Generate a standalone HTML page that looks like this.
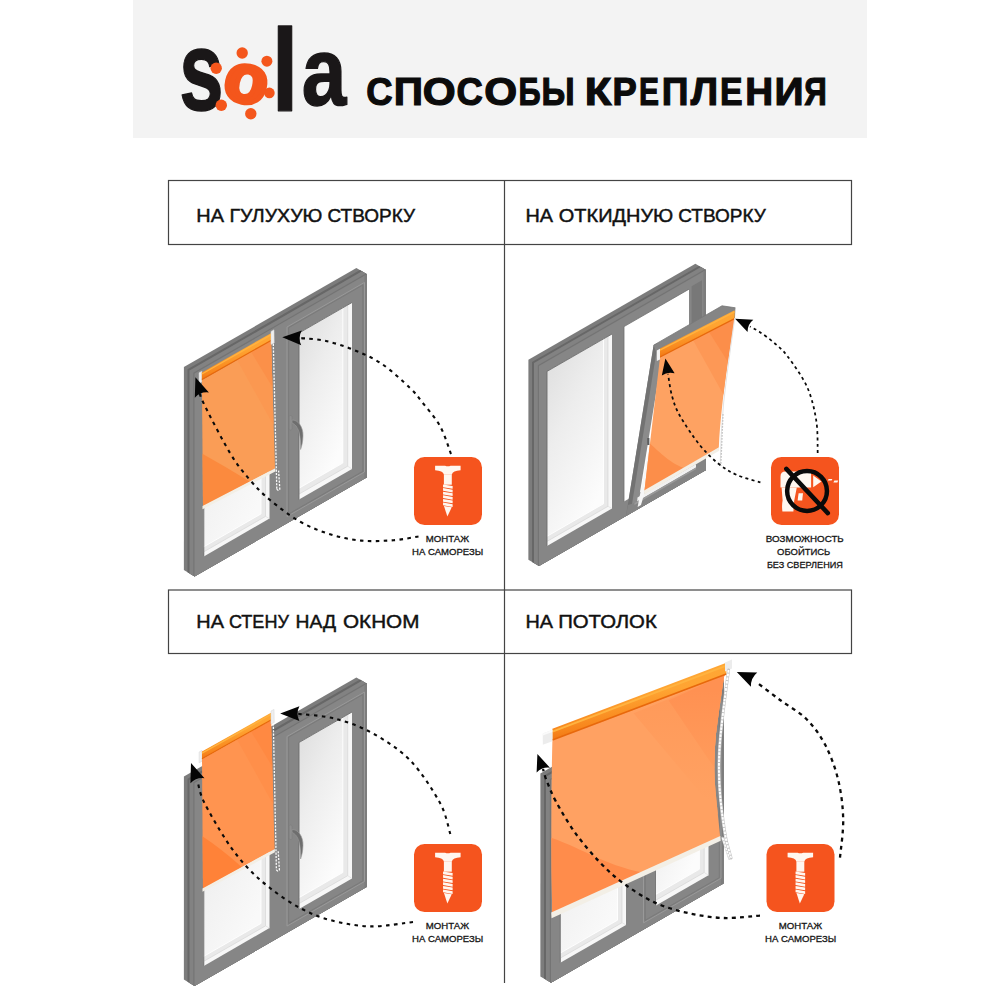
<!DOCTYPE html>
<html lang="ru"><head><meta charset="utf-8"><title>sola — способы крепления</title>
<style>
html,body{margin:0;padding:0;background:#fff;}
body{width:1000px;height:1000px;overflow:hidden;font-family:"Liberation Sans",sans-serif;}
svg{display:block}
text{font-family:"Liberation Sans",sans-serif;}
.lb{fill:#111;stroke:#111;stroke-width:.45px;}
.sm{fill:#161616;stroke:#161616;stroke-width:.28px;}
.ttl{fill:#0b0b0b;font-weight:bold;stroke:#0b0b0b;stroke-width:1.2px;stroke-linejoin:miter;}
.logo{font-family:"Liberation Sans",sans-serif;font-weight:bold;}
</style></head><body>
<svg width="1000" height="1000" viewBox="0 0 1000 1000">
<defs>
<linearGradient id="gA" x1="0" y1="0" x2="0.55" y2="1"><stop offset="0" stop-color="#e4e4e4"/><stop offset=".55" stop-color="#f1f1f1"/><stop offset="1" stop-color="#f9f9f9"/></linearGradient>
<linearGradient id="gB" x1="0" y1="0" x2="0.55" y2="1"><stop offset="0" stop-color="#dcdcdc"/><stop offset=".45" stop-color="#ededed"/><stop offset="1" stop-color="#fcfcfc"/></linearGradient>
<linearGradient id="g4m" gradientUnits="userSpaceOnUse" x1="0" y1="700" x2="0" y2="800"><stop offset="0" stop-color="#ff9a5a"/><stop offset="1" stop-color="#ffa162"/></linearGradient>
<linearGradient id="g4d" gradientUnits="userSpaceOnUse" x1="0" y1="690" x2="0" y2="790"><stop offset="0" stop-color="#ff9152"/><stop offset="1" stop-color="#ff9e5e"/></linearGradient>
<linearGradient id="gR" x1="0" y1="0" x2="0.3" y2="1"><stop offset="0" stop-color="#f68c1f"/><stop offset=".18" stop-color="#ffa836"/><stop offset=".5" stop-color="#ffa432"/><stop offset=".82" stop-color="#f7851c"/><stop offset="1" stop-color="#ea6a0e"/></linearGradient>
</defs>
<rect width="1000" height="1000" fill="#ffffff"/>
<rect x="133" y="0" width="734" height="138" fill="#f3f3f3"/>

<g fill="none" stroke="#444" stroke-width="1.2">
<rect x="168.5" y="180.5" width="683" height="64"/>
<rect x="168.5" y="590" width="683" height="63.5"/>
<line x1="504.5" y1="180.5" x2="504.5" y2="983"/>
</g>
<text class="logo" stroke-linejoin="round"><tspan x="179.20" y="109.6" font-size="113" textLength="44.26" lengthAdjust="spacingAndGlyphs" fill="#1a1718" stroke="#1a1718" stroke-width="1.4">s</tspan><tspan x="221.14" y="97.5" font-size="68" textLength="43.11" lengthAdjust="spacingAndGlyphs" rotate="12" fill="#f4561c" stroke="#f4561c" stroke-width="4.6">o</tspan><tspan x="271.38" y="110.6" font-size="117" textLength="27.13" lengthAdjust="spacingAndGlyphs" fill="#1a1718" stroke="#1a1718" stroke-width="1.4">l</tspan><tspan x="301.65" y="105.2" font-size="96" textLength="44.64" lengthAdjust="spacingAndGlyphs" fill="#1a1718" stroke="#1a1718" stroke-width="1.4">a</tspan></text>
<circle cx="242.2" cy="53" r="5.7" fill="#f4561c"/>
<circle cx="266.9" cy="61.2" r="5.5" fill="#f4561c"/>
<circle cx="216.2" cy="68.2" r="5.7" fill="#f4561c"/>
<circle cx="269.4" cy="92.9" r="5.3" fill="#f4561c"/>
<circle cx="221.3" cy="105.3" r="5.7" fill="#f4561c"/>
<circle cx="250.8" cy="113.8" r="5.7" fill="#f4561c"/>
<text y="105.4" font-size="38.9" class="ttl" ><tspan x="366.21" textLength="26.29" lengthAdjust="spacingAndGlyphs">С</tspan><tspan x="393.78" textLength="29.24" lengthAdjust="spacingAndGlyphs">П</tspan><tspan x="422.76" textLength="32.91" lengthAdjust="spacingAndGlyphs">О</tspan><tspan x="456.61" textLength="26.29" lengthAdjust="spacingAndGlyphs">С</tspan><tspan x="484.36" textLength="32.91" lengthAdjust="spacingAndGlyphs">О</tspan><tspan x="518.44" textLength="22.16" lengthAdjust="spacingAndGlyphs">Б</tspan><tspan x="541.44" textLength="33.13" lengthAdjust="spacingAndGlyphs">Ы</tspan><tspan> </tspan><tspan x="584.78" textLength="26.66" lengthAdjust="spacingAndGlyphs">К</tspan><tspan x="612.46" textLength="24.28" lengthAdjust="spacingAndGlyphs">Р</tspan><tspan x="638.90" textLength="19.97" lengthAdjust="spacingAndGlyphs">Е</tspan><tspan x="661.76" textLength="26.72" lengthAdjust="spacingAndGlyphs">П</tspan><tspan x="690.75" textLength="27.36" lengthAdjust="spacingAndGlyphs">Л</tspan><tspan x="719.93" textLength="22.59" lengthAdjust="spacingAndGlyphs">Е</tspan><tspan x="745.32" textLength="27.88" lengthAdjust="spacingAndGlyphs">Н</tspan><tspan x="774.61" textLength="29.10" lengthAdjust="spacingAndGlyphs">И</tspan><tspan x="804.36" textLength="22.53" lengthAdjust="spacingAndGlyphs">Я</tspan></text>
<text y="221.7" font-size="19" class="lb" ><tspan x="196.37" textLength="27.67" lengthAdjust="spacingAndGlyphs">НА</tspan><tspan> </tspan><tspan x="229.40" textLength="93.03" lengthAdjust="spacingAndGlyphs">ГУЛУХУЮ</tspan><tspan> </tspan><tspan x="327.45" textLength="87.56" lengthAdjust="spacingAndGlyphs">СТВОРКУ</tspan></text>
<text y="221.7" font-size="19" class="lb" ><tspan x="525.47" textLength="27.57" lengthAdjust="spacingAndGlyphs">НА</tspan><tspan> </tspan><tspan x="558.86" textLength="114.40" lengthAdjust="spacingAndGlyphs">ОТКИДНУЮ</tspan><tspan> </tspan><tspan x="678.25" textLength="87.56" lengthAdjust="spacingAndGlyphs">СТВОРКУ</tspan></text>
<text y="627.7" font-size="19" class="lb" ><tspan x="196.37" textLength="27.67" lengthAdjust="spacingAndGlyphs">НА</tspan><tspan> </tspan><tspan x="228.89" textLength="60.02" lengthAdjust="spacingAndGlyphs">СТЕНУ</tspan><tspan> </tspan><tspan x="295.59" textLength="40.58" lengthAdjust="spacingAndGlyphs">НАД</tspan><tspan> </tspan><tspan x="343.02" textLength="76.38" lengthAdjust="spacingAndGlyphs">ОКНОМ</tspan></text>
<text y="627.7" font-size="19" class="lb" ><tspan x="525.47" textLength="27.57" lengthAdjust="spacingAndGlyphs">НА</tspan><tspan> </tspan><tspan x="558.17" textLength="98.65" lengthAdjust="spacingAndGlyphs">ПОТОЛОК</tspan></text>
<polygon points="183.9,367.1 356.4,267.9 367.0,274.3 367.0,477.3 194.5,576.5 183.9,570.1" fill="#7c7c7c" />
<polygon points="187.5,369.3 360.0,270.1 367.0,274.3 367.0,477.3 194.5,576.5 187.5,572.3" fill="#676767" />
<polygon points="189.5,370.5 362.0,271.3 367.0,274.3 367.0,477.3 194.5,576.5 189.5,573.5" fill="#828282" />
<polygon points="193.3,372.8 365.8,273.6 367.0,274.3 367.0,477.3 194.5,576.5 193.3,575.8" fill="#747474" />
<polygon points="194.5,373.5 367.0,274.3 367.0,477.3 194.5,576.5" fill="#868686" />
<polygon points="364.5,275.8 367.0,274.3 367.0,477.3 364.5,478.8" fill="#7d7d7d" />
<polygon points="203.8,383.2 269.5,345.4 269.5,518.6 203.8,556.4" fill="#f7f7f7" />
<polygon points="203.8,383.2 265.5,347.7 265.5,516.4 203.8,551.8" fill="#e9e9e9" />
<polyline points="203.8,551.8 265.5,516.4 265.5,347.7" fill="none" stroke="#d6d6d6" stroke-width="0.7" />
<polyline points="265.5,516.4 269.5,518.6" fill="none" stroke="#dcdcdc" stroke-width="0.6" />
<polygon points="203.8,383.2 261.0,350.3 261.0,513.9 203.8,546.8" fill="url(#gA)" />
<polyline points="203.8,546.8 261.0,513.9 261.0,350.3" fill="none" stroke="#ffffff" stroke-width="0.9" />
<polyline points="203.8,556.4 203.8,383.2 269.5,345.4" fill="none" stroke="#6c6c6c" stroke-width="0.9" />
<polygon points="287.0,327.0 364.5,282.4 364.5,472.0 287.0,516.6" fill="#838383" />
<polyline points="287.0,327.0 364.5,282.4 364.5,472.0 287.0,516.6 287.0,327.0" fill="none" stroke="#999999" stroke-width="1.0" />
<polygon points="288.7,327.7 362.8,285.1 362.8,471.3 288.7,513.9" fill="#868686" />
<polyline points="288.7,327.7 362.8,285.1 362.8,471.3 288.7,513.9 288.7,327.7" fill="none" stroke="#777777" stroke-width="0.8" />
<polygon points="299.0,333.0 352.0,302.5 352.0,468.9 299.0,499.4" fill="#f7f7f7" />
<polygon points="299.0,333.0 347.7,305.0 347.7,466.2 299.0,494.1" fill="#e9e9e9" />
<polyline points="299.0,494.1 347.7,466.2 347.7,305.0" fill="none" stroke="#d6d6d6" stroke-width="0.7" />
<polyline points="347.7,466.2 352.0,468.9" fill="none" stroke="#dcdcdc" stroke-width="0.6" />
<polygon points="299.0,333.0 342.8,307.8 342.8,463.0 299.0,488.2" fill="url(#gB)" />
<polyline points="299.0,488.2 342.8,463.0 342.8,307.8" fill="none" stroke="#ffffff" stroke-width="0.9" />
<polyline points="299.0,499.4 299.0,333.0 352.0,302.5" fill="none" stroke="#6c6c6c" stroke-width="0.9" />
<rect x="289.2" y="415.5" width="2.8" height="14.5" rx="1.2" fill="#8e8e8e" stroke="#7a7a7a" stroke-width="0.5"/>
<path d="M291.9,420.1 c5.6,-0.8 11.6,6.6 11.1,15.9 c-0.2,6 -1.2,10 -2.4,13.5 c-0.3,-5.5 0.2,-11.5 -1.6,-17.5 c-1.5,-5 -4,-8 -7,-9 Z" fill="#6e6e6e" stroke="#9c9c9c" stroke-width="0.6"/>
<polygon points="199.0,372.8 201.9,371.2 201.9,382.0 199.0,383.6" fill="#efefef" stroke="#d4d4d4" stroke-width="0.5"/>
<clipPath id="cf1"><polygon points="201.9,380.0 271.0,340.8 275.0,468.6 203.0,506.4"/></clipPath>
<polygon points="201.9,380.0 271.0,340.8 275.0,468.6 203.0,506.4" fill="#fa9d56" />
<g clip-path="url(#cf1)">
<polygon points="237.0,359.8 277.0,336.8 277.0,428.8 271.0,420.8" fill="#fb9851" />
<polygon points="251.0,351.8 277.0,336.8 277.0,390.8 271.0,384.8" fill="#fb9049" />
<path d="M200.0,452.4 Q224.2,465.8 250.0,481.7 L250.0,493.7 L200.0,516.4 Z" fill="#fb8a3e"/>
</g>
<polygon points="202.5,506.0 275.3,468.2 275.3,471.5 202.5,509.3" fill="#f3efe6" />
<polygon points="201.9,372.4 271.0,333.2 271.0,340.8 201.9,380.0" fill="url(#gR)" />
<polyline points="201.9,379.6 271.0,340.4" fill="none" stroke="#e8680c" stroke-width="1.2" />
<polyline points="201.9,374.0 271.0,334.8" fill="none" stroke="#ffb340" stroke-width="1.4" />
<polygon points="271.0,331.4 274.0,329.8 274.2,343.0 271.0,344.4" fill="#efefef" stroke="#d4d4d4" stroke-width="0.5"/>
<path d="M273.3,343.8 L276.8,489.1" stroke="#fafafa" stroke-width="1.3" stroke-dasharray="2.1 1.3" fill="none"/>
<path d="M276.8,489.1 q1.6,2.4 3.0,0 L278.6,470.6" stroke="#fafafa" stroke-width="1.3" stroke-dasharray="2.1 1.3" fill="none"/>
<path d="M418.5,536.5 C414.4,537.1 403.2,539.5 393.6,540.2 C384.1,540.9 371.8,541.6 361.2,540.6 C350.6,539.6 340.2,537.4 330.0,534.2 C319.8,531.0 310.0,527.3 300.0,521.6 C290.0,515.9 278.3,506.9 270.0,500.0 C261.7,493.1 256.7,487.8 250.0,480.0 C243.3,472.2 237.8,466.0 230.0,453.0 C222.2,440.0 208.0,412.4 203.0,402.0 C198.0,391.6 200.7,392.4 200.2,390.5" fill="none" stroke="#0a0a0a" stroke-width="2.1" stroke-dasharray="3.5 4.4"/>
<path d="M0,0 L-18.9,-7.5 Q-15.1,0 -18.9,7.5 Z" fill="#050505" transform="translate(195.4,377.3) rotate(-110)"/>
<path d="M451.0,454.0 C449.2,449.3 444.8,434.7 440.0,426.0 C435.2,417.3 427.0,408.3 422.0,402.0 C417.0,395.7 416.7,394.3 410.0,388.0 C403.3,381.7 391.3,370.3 382.0,364.0 C372.7,357.7 363.3,353.8 354.0,350.0 C344.7,346.2 334.9,343.0 326.0,341.0 C317.1,339.0 304.8,338.5 300.5,338.0" fill="none" stroke="#0a0a0a" stroke-width="2.1" stroke-dasharray="3.5 4.4"/>
<path d="M0,0 L-19.2,-7.4 Q-15.4,0 -19.2,7.4 Z" fill="#050505" transform="translate(282.3,337.3) rotate(-178)"/>
<rect x="414" y="457" width="68" height="68" rx="10.5" fill="#f5541e"/>
<g fill="#fff7f0">
<path d="M435.10,465.80 h10.0 q2.75,1.1 5.5,0 h10.0 v4.4 q-7.8,0.4 -8.8,4.4 h-7.9 q-1.0,-4.0 -8.8,-4.4 Z"/>
<rect x="443.90" y="474.30" width="7.9" height="10.4"/>
<polygon points="443.05,484.40 452.65,486.10 452.65,488.85 443.05,487.15"/>
<polygon points="443.05,488.02 452.65,489.72 452.65,492.47 443.05,490.77"/>
<polygon points="443.05,491.64 452.65,493.34 452.65,496.09 443.05,494.39"/>
<polygon points="443.05,495.26 452.65,496.96 452.65,499.71 443.05,498.01"/>
<polygon points="443.05,498.88 452.65,500.58 452.65,503.33 443.05,501.63"/>
<polygon points="443.05,502.50 452.65,504.20 452.65,506.95 443.05,505.25"/>
<polygon points="443.95,505.92 451.75,507.32 447.35,516.40"/>
</g>
<text x="447.4" y="542.2" font-size="8.9" text-anchor="middle" textLength="43.3" lengthAdjust="spacingAndGlyphs" class="sm">МОНТАЖ</text>
<text x="447.6" y="554.8" font-size="8.9" text-anchor="middle" textLength="71.2" lengthAdjust="spacingAndGlyphs" class="sm">НА САМОРЕЗЫ</text>
<polygon points="183.9,776.6 356.4,677.4 367.0,683.8 367.0,886.8 194.5,986.0 183.9,979.6" fill="#7c7c7c" />
<polygon points="187.5,778.8 360.0,679.6 367.0,683.8 367.0,886.8 194.5,986.0 187.5,981.8" fill="#676767" />
<polygon points="189.5,780.0 362.0,680.8 367.0,683.8 367.0,886.8 194.5,986.0 189.5,983.0" fill="#828282" />
<polygon points="193.3,782.3 365.8,683.1 367.0,683.8 367.0,886.8 194.5,986.0 193.3,985.3" fill="#747474" />
<polygon points="194.5,783.0 367.0,683.8 367.0,886.8 194.5,986.0" fill="#868686" />
<polygon points="364.5,685.2 367.0,683.8 367.0,886.8 364.5,888.2" fill="#7d7d7d" />
<polygon points="203.8,792.7 269.5,754.9 269.5,928.1 203.8,965.9" fill="#f7f7f7" />
<polygon points="203.8,792.7 265.5,757.2 265.5,925.9 203.8,961.3" fill="#e9e9e9" />
<polyline points="203.8,961.3 265.5,925.9 265.5,757.2" fill="none" stroke="#d6d6d6" stroke-width="0.7" />
<polyline points="265.5,925.9 269.5,928.1" fill="none" stroke="#dcdcdc" stroke-width="0.6" />
<polygon points="203.8,792.7 261.0,759.8 261.0,923.4 203.8,956.3" fill="url(#gA)" />
<polyline points="203.8,956.3 261.0,923.4 261.0,759.8" fill="none" stroke="#ffffff" stroke-width="0.9" />
<polyline points="203.8,965.9 203.8,792.7 269.5,754.9" fill="none" stroke="#6c6c6c" stroke-width="0.9" />
<polygon points="287.0,736.5 364.5,692.0 364.5,881.5 287.0,926.1" fill="#838383" />
<polyline points="287.0,736.5 364.5,692.0 364.5,881.5 287.0,926.1 287.0,736.5" fill="none" stroke="#999999" stroke-width="1.0" />
<polygon points="288.7,737.2 362.8,694.6 362.8,880.8 288.7,923.4" fill="#868686" />
<polyline points="288.7,737.2 362.8,694.6 362.8,880.8 288.7,923.4 288.7,737.2" fill="none" stroke="#777777" stroke-width="0.8" />
<polygon points="299.0,742.5 352.0,712.0 352.0,878.4 299.0,908.9" fill="#f7f7f7" />
<polygon points="299.0,742.5 347.7,714.5 347.7,875.7 299.0,903.6" fill="#e9e9e9" />
<polyline points="299.0,903.6 347.7,875.7 347.7,714.5" fill="none" stroke="#d6d6d6" stroke-width="0.7" />
<polyline points="347.7,875.7 352.0,878.4" fill="none" stroke="#dcdcdc" stroke-width="0.6" />
<polygon points="299.0,742.5 342.8,717.3 342.8,872.5 299.0,897.7" fill="url(#gB)" />
<polyline points="299.0,897.7 342.8,872.5 342.8,717.3" fill="none" stroke="#ffffff" stroke-width="0.9" />
<polyline points="299.0,908.9 299.0,742.5 352.0,712.0" fill="none" stroke="#6c6c6c" stroke-width="0.9" />
<rect x="289.2" y="825.0" width="2.8" height="14.5" rx="1.2" fill="#8e8e8e" stroke="#7a7a7a" stroke-width="0.5"/>
<path d="M291.9,829.6 c5.6,-0.8 11.6,6.6 11.1,15.9 c-0.2,6 -1.2,10 -2.4,13.5 c-0.3,-5.5 0.2,-11.5 -1.6,-17.5 c-1.5,-5 -4,-8 -7,-9 Z" fill="#6e6e6e" stroke="#9c9c9c" stroke-width="0.6"/>
<polygon points="199.1,752.0 202.0,750.4 202.0,761.2 199.1,762.8" fill="#efefef" stroke="#d4d4d4" stroke-width="0.5"/>
<clipPath id="cf3"><polygon points="202.0,759.2 271.0,720.4 274.6,849.3 203.0,888.8"/></clipPath>
<polygon points="202.0,759.2 271.0,720.4 274.6,849.3 203.0,888.8" fill="#ff9450" />
<g clip-path="url(#cf3)">
<polygon points="237.0,739.4 277.0,716.4 277.0,808.4 271.0,800.4" fill="#ff8f4a" />
<polygon points="251.0,731.4 277.0,716.4 277.0,770.4 271.0,764.4" fill="#ff8942" />
<path d="M200.0,834.8 Q220.6,848.2 242.0,867.3 L242.0,879.3 L200.0,898.8 Z" fill="#ff8238"/>
</g>
<polygon points="202.5,888.4 274.9,848.9 274.9,852.2 202.5,891.7" fill="#f3efe6" />
<polygon points="202.0,751.6 271.0,712.8 271.0,720.4 202.0,759.2" fill="url(#gR)" />
<polyline points="202.0,758.8 271.0,720.0" fill="none" stroke="#e8680c" stroke-width="1.2" />
<polyline points="202.0,753.2 271.0,714.4" fill="none" stroke="#ffb340" stroke-width="1.4" />
<polygon points="271.0,711.0 274.0,709.4 274.2,722.6 271.0,724.0" fill="#efefef" stroke="#d4d4d4" stroke-width="0.5"/>
<path d="M273.3,723.4 L276.4,869.8" stroke="#fafafa" stroke-width="1.3" stroke-dasharray="2.1 1.3" fill="none"/>
<path d="M276.4,869.8 q1.6,2.4 3.0,0 L278.2,851.3" stroke="#fafafa" stroke-width="1.3" stroke-dasharray="2.1 1.3" fill="none"/>
<path d="M413.0,922.0 C405.8,922.7 383.8,926.7 370.0,926.4 C356.2,926.1 341.7,923.1 330.0,920.0 C318.3,916.9 310.0,913.3 300.0,908.0 C290.0,902.7 279.0,895.0 270.0,888.0 C261.0,881.0 253.3,874.0 246.0,866.0 C238.7,858.0 233.0,850.7 226.0,840.0 C219.0,829.3 208.8,811.8 204.0,802.0 C199.2,792.2 198.6,784.5 197.5,781.0" fill="none" stroke="#0a0a0a" stroke-width="2.1" stroke-dasharray="3.5 4.4"/>
<path d="M0,0 L-18.9,-7.5 Q-15.1,0 -18.9,7.5 Z" fill="#050505" transform="translate(191.0,763.0) rotate(-110)"/>
<path d="M450.3,834.0 C448.6,828.8 446.5,814.8 439.8,802.6 C433.1,790.4 421.6,772.2 410.4,760.6 C399.2,749.0 385.2,740.3 372.6,733.3 C360.0,726.3 347.2,721.9 334.8,718.6 C322.4,715.4 304.1,714.6 298.0,713.8" fill="none" stroke="#0a0a0a" stroke-width="2.1" stroke-dasharray="3.5 4.4"/>
<path d="M0,0 L-19.2,-7.4 Q-15.4,0 -19.2,7.4 Z" fill="#050505" transform="translate(280.2,713.6) rotate(180)"/>
<rect x="414" y="844" width="68" height="68" rx="10.5" fill="#f5541e"/>
<g fill="#fff7f0">
<path d="M435.10,852.80 h10.0 q2.75,1.1 5.5,0 h10.0 v4.4 q-7.8,0.4 -8.8,4.4 h-7.9 q-1.0,-4.0 -8.8,-4.4 Z"/>
<rect x="443.90" y="861.30" width="7.9" height="10.4"/>
<polygon points="443.05,871.40 452.65,873.10 452.65,875.85 443.05,874.15"/>
<polygon points="443.05,875.02 452.65,876.72 452.65,879.47 443.05,877.77"/>
<polygon points="443.05,878.64 452.65,880.34 452.65,883.09 443.05,881.39"/>
<polygon points="443.05,882.26 452.65,883.96 452.65,886.71 443.05,885.01"/>
<polygon points="443.05,885.88 452.65,887.58 452.65,890.33 443.05,888.63"/>
<polygon points="443.05,889.50 452.65,891.20 452.65,893.95 443.05,892.25"/>
<polygon points="443.95,892.92 451.75,894.32 447.35,903.40"/>
</g>
<text x="447.4" y="929.4" font-size="8.9" text-anchor="middle" textLength="43.3" lengthAdjust="spacingAndGlyphs" class="sm">МОНТАЖ</text>
<text x="447.6" y="941.9" font-size="8.9" text-anchor="middle" textLength="71.2" lengthAdjust="spacingAndGlyphs" class="sm">НА САМОРЕЗЫ</text>
<polygon points="528.4,359.8 695.4,263.8 706.0,270.0 706.0,470.0 539.0,566.0 528.4,559.8" fill="#7c7c7c" />
<polygon points="532.0,361.9 699.0,265.9 706.0,270.0 706.0,470.0 539.0,566.0 532.0,561.9" fill="#676767" />
<polygon points="534.0,363.1 701.0,267.1 706.0,270.0 706.0,470.0 539.0,566.0 534.0,563.1" fill="#828282" />
<polygon points="537.8,365.3 704.8,269.3 706.0,270.0 706.0,470.0 539.0,566.0 537.8,565.3" fill="#747474" />
<polygon points="539.0,366.0 706.0,270.0 706.0,470.0 539.0,566.0" fill="#868686" />
<polygon points="703.5,271.4 706.0,270.0 706.0,470.0 703.5,471.4" fill="#7d7d7d" />
<polygon points="547.0,371.4 612.0,334.0 612.0,508.5 547.0,545.9" fill="#f7f7f7" />
<polygon points="547.0,371.4 608.0,336.3 608.0,506.3 547.0,541.4" fill="#e9e9e9" />
<polyline points="547.0,541.4 608.0,506.3 608.0,336.3" fill="none" stroke="#d6d6d6" stroke-width="0.7" />
<polyline points="608.0,506.3 612.0,508.5" fill="none" stroke="#dcdcdc" stroke-width="0.6" />
<polygon points="547.0,371.4 603.5,338.9 603.5,503.8 547.0,536.3" fill="url(#gB)" />
<polyline points="547.0,536.3 603.5,503.8 603.5,338.9" fill="none" stroke="#ffffff" stroke-width="0.9" />
<polyline points="547.0,545.9 547.0,371.4 612.0,334.0" fill="none" stroke="#6c6c6c" stroke-width="0.9" />
<polygon points="624.0,326.6 689.0,289.2 689.0,464.2 624.0,501.6" fill="#ffffff" />
<polyline points="624.0,501.6 624.0,326.6 689.0,289.2" fill="none" stroke="#707070" stroke-width="0.8" />
<polygon points="691.6,286.3 702.0,280.3 702.0,462.3 691.6,468.3" fill="#787878" />
<polygon points="653.6,345.2 664.6,340.2 637.2,509.6 626.0,516.0" fill="#8b8b8b" />
<polygon points="653.6,345.2 657.8,343.3 630.5,513.6 626.0,516.0" fill="#727272" />
<polygon points="653.6,345.2 722.0,305.8 735.4,307.8 735.0,318.0 660.0,357.0 656.6,353.2" fill="#858585" />
<polyline points="653.6,345.2 722.0,305.8 735.4,307.8" fill="none" stroke="#777" stroke-width="0.8" />
<polygon points="637.5,497.5 697.0,463.5 697.0,470.0 637.0,504.5" fill="#f1f1f1" />
<polygon points="634.5,503.0 696.0,467.5 696.0,460.5 706.0,460.0 706.0,470.0 626.0,516.0 628.0,505.0" fill="#848484" />
<polygon points="634.5,503.0 696.0,467.5 696.0,469.3 634.5,505.0" fill="#9a9a9a" />
<polygon points="637.6,507.0 650.5,440.0 644.4,493.0 641.0,505.0" fill="#f6f6f6" />
<clipPath id="cf2"><path d="M660,357.2 L734.4,319 Q726,372 722.6,402 Q719.4,430 718.8,448 L644.4,491.2 Z"/></clipPath>
<path d="M660,357.2 L734.4,319 Q726,372 722.6,402 Q719.4,430 718.8,448 L644.4,491.2 Z" fill="#fea262"/>
<g clip-path="url(#cf2)">
<polygon points="693.0,340.0 740.0,316.0 740.0,420.0 722.0,392.0" fill="#fd9856" />
<polygon points="709.0,332.0 740.0,316.0 740.0,380.0 728.0,362.0" fill="#fc8e4a" />
<path d="M640,436 C654,444 668,466 692,470 L692,500 L640,500 Z" fill="#fc8e4a"/>
</g>
<polygon points="644.0,490.4 719.0,447.2 719.2,450.8 644.2,494.4" fill="#f3efe6" />
<polygon points="660.0,348.6 734.6,310.2 734.6,318.8 660.0,357.4" fill="url(#gR)" />
<polyline points="660.0,357.0 734.6,318.6" fill="none" stroke="#e8680c" stroke-width="1.2" />
<polyline points="660.0,350.2 734.6,311.8" fill="none" stroke="#ffb340" stroke-width="1.4" />
<polygon points="656.8,350.4 660.0,348.8 660.0,359.4 656.8,361.0" fill="#f2f2f2" />
<path d="M734.8,318 Q727,372 723.5,404 Q720.6,436 720.2,466" stroke="#e4e4e4" stroke-width="1.1" fill="none"/>
<path d="M723.0,414 L720.8,466" stroke="#c4c4c4" stroke-width="1.3" stroke-dasharray="1.8 1.2" fill="none"/>
<rect x="647.2" y="438" width="2.2" height="7" fill="#5f5f5f"/>
<path d="M760.4,482.4 C756.5,481.2 743.9,478.1 737.0,475.0 C730.1,471.9 725.0,469.0 718.8,464.0 C712.6,459.0 706.1,452.8 699.6,444.8 C693.1,436.8 684.6,424.1 680.0,416.0 C675.4,407.9 674.0,403.0 672.0,396.0 C670.0,389.0 668.7,377.7 668.0,374.0" fill="none" stroke="#0a0a0a" stroke-width="1.75" stroke-dasharray="3 3.3"/>
<path d="M0,0 L-16.2,-6.5 Q-13.0,0 -16.2,6.5 Z" fill="#050505" transform="translate(665.4,358.5) rotate(-100)"/>
<path d="M817.7,453.0 C817.5,447.6 818.0,431.8 816.3,420.8 C814.5,409.8 812.0,397.9 807.2,387.2 C802.4,376.5 793.2,363.9 787.6,356.4 C782.0,348.9 778.3,346.5 773.6,342.4 C768.9,338.3 763.5,334.5 759.6,331.9 C755.7,329.2 751.6,327.4 750.0,326.5" fill="none" stroke="#0a0a0a" stroke-width="1.75" stroke-dasharray="3 3.3"/>
<path d="M0,0 L-16.9,-6.8 Q-13.5,0 -16.9,6.8 Z" fill="#050505" transform="translate(735.1,318.8) rotate(-155)"/>
<rect x="771" y="457" width="68" height="68" rx="10.5" fill="#f5541e"/>
<g fill="#fff7f0" transform="translate(771,457)">
<path d="M9.5,19.6 q0,-5 5,-5 h25.6 v16 h-30.6 z"/>
<path d="M10.6,30.4 h15.2 l-2.6,13.4 l-0.8,10.6 h-11 q-0.8,-6 0.2,-11 z"/>
<polygon points="27.6,36.2 32,36.2 31.2,43.6 26.6,43.6"/>
<polygon points="42.2,18.4 50.4,24.4 42.2,30.2"/>
<polygon points="56.8,23.4 57.6,22 61.4,22 60.6,23.6"/><polygon points="62.4,25.6 63.4,23.6 67.2,23.4 66.4,25.6"/>
</g>
<circle cx="807.05" cy="491.0" r="19.9" fill="none" stroke="#0a0a0a" stroke-width="4.5"/>
<line x1="786.3" y1="468.9" x2="827.8" y2="513.1" stroke="#0a0a0a" stroke-width="4.5" stroke-linecap="round"/>
<text x="804.8" y="542.4" font-size="8.9" text-anchor="middle" textLength="77.9" lengthAdjust="spacingAndGlyphs" class="sm">ВОЗМОЖНОСТЬ</text>
<text x="803.7" y="554.9" font-size="8.9" text-anchor="middle" textLength="53.2" lengthAdjust="spacingAndGlyphs" class="sm">ОБОЙТИСЬ</text>
<text x="804.9" y="567.6" font-size="8.9" text-anchor="middle" textLength="76.0" lengthAdjust="spacingAndGlyphs" class="sm">БЕЗ СВЕРЛЕНИЯ</text>
<polygon points="540.4,773.4 712.9,674.2 723.5,680.6 723.5,883.6 551.0,982.8 540.4,976.4" fill="#7c7c7c" />
<polygon points="544.0,775.6 716.5,676.4 723.5,680.6 723.5,883.6 551.0,982.8 544.0,978.6" fill="#676767" />
<polygon points="546.0,776.8 718.5,677.6 723.5,680.6 723.5,883.6 551.0,982.8 546.0,979.8" fill="#828282" />
<polygon points="549.8,779.1 722.3,679.9 723.5,680.6 723.5,883.6 551.0,982.8 549.8,982.1" fill="#747474" />
<polygon points="551.0,779.8 723.5,680.6 723.5,883.6 551.0,982.8" fill="#868686" />
<polygon points="721.0,682.0 723.5,680.6 723.5,883.6 721.0,885.0" fill="#7d7d7d" />
<polygon points="560.3,789.5 626.0,751.7 626.0,924.9 560.3,962.7" fill="#f7f7f7" />
<polygon points="560.3,789.5 622.0,754.0 622.0,922.7 560.3,958.1" fill="#e9e9e9" />
<polyline points="560.3,958.1 622.0,922.7 622.0,754.0" fill="none" stroke="#d6d6d6" stroke-width="0.7" />
<polyline points="622.0,922.7 626.0,924.9" fill="none" stroke="#dcdcdc" stroke-width="0.6" />
<polygon points="560.3,789.5 617.5,756.6 617.5,920.2 560.3,953.1" fill="url(#gA)" />
<polyline points="560.3,953.1 617.5,920.2 617.5,756.6" fill="none" stroke="#ffffff" stroke-width="0.9" />
<polyline points="560.3,962.7 560.3,789.5 626.0,751.7" fill="none" stroke="#6c6c6c" stroke-width="0.9" />
<polygon points="643.5,733.3 721.0,688.8 721.0,878.3 643.5,922.9" fill="#838383" />
<polyline points="643.5,733.3 721.0,688.8 721.0,878.3 643.5,922.9 643.5,733.3" fill="none" stroke="#999999" stroke-width="1.0" />
<polygon points="645.2,734.0 719.3,691.4 719.3,877.6 645.2,920.2" fill="#868686" />
<polyline points="645.2,734.0 719.3,691.4 719.3,877.6 645.2,920.2 645.2,734.0" fill="none" stroke="#777777" stroke-width="0.8" />
<polygon points="655.5,739.3 708.5,708.8 708.5,875.2 655.5,905.7" fill="#f7f7f7" />
<polygon points="655.5,739.3 704.2,711.3 704.2,872.5 655.5,900.4" fill="#e9e9e9" />
<polyline points="655.5,900.4 704.2,872.5 704.2,711.3" fill="none" stroke="#d6d6d6" stroke-width="0.7" />
<polyline points="704.2,872.5 708.5,875.2" fill="none" stroke="#dcdcdc" stroke-width="0.6" />
<polygon points="655.5,739.3 699.3,714.1 699.3,869.3 655.5,894.5" fill="url(#gB)" />
<polyline points="655.5,894.5 699.3,869.3 699.3,714.1" fill="none" stroke="#ffffff" stroke-width="0.9" />
<polyline points="655.5,905.7 655.5,739.3 708.5,708.8" fill="none" stroke="#6c6c6c" stroke-width="0.9" />
<rect x="645.7" y="821.8" width="2.8" height="14.5" rx="1.2" fill="#8e8e8e" stroke="#7a7a7a" stroke-width="0.5"/>
<path d="M648.4,826.4 c5.6,-0.8 11.6,6.6 11.1,15.9 c-0.2,6 -1.2,10 -2.4,13.5 c-0.3,-5.5 0.2,-11.5 -1.6,-17.5 c-1.5,-5 -4,-8 -7,-9 Z" fill="#6e6e6e" stroke="#9c9c9c" stroke-width="0.6"/>
<clipPath id="cf4"><path d="M552.4,740.4 L724.4,674.6 Q719.5,706 716,734 Q712.6,768 716.4,800 Q718.6,822 720.2,837.0 L552.2,913.2 Q550.4,820 552.4,740.4 Z"/></clipPath>
<path d="M552.4,740.4 L724.4,674.6 Q719.5,706 716,734 Q712.6,768 716.4,800 Q718.6,822 720.2,837.0 L552.2,913.2 Q550.4,820 552.4,740.4 Z" fill="#ffa162"/>
<g clip-path="url(#cf4)">
<polygon points="633.6,713.2 668.6,699.0 730.0,670.0 730.0,830.0 706.4,800.0" fill="url(#g4m)" />
<polygon points="668.6,700.6 730.0,672.0 730.0,792.0 716.2,770.6" fill="url(#g4d)" />
<path d="M545,836 C580,846 606,868 652,874 L652,930 L545,930 Z" fill="#ff8c4b"/>
</g>
<polygon points="551.2,912.6 720.3,836.0 720.7,840.8 551.6,918.2" fill="#f3efe6" />
<polygon points="552.4,728.8 726.4,662.8 726.4,674.6 552.4,740.6" fill="url(#gR)" />
<polyline points="552.4,740.0 726.4,674.0" fill="none" stroke="#e8680c" stroke-width="1.6" />
<polyline points="552.4,731.6 726.4,665.6" fill="none" stroke="#ffb340" stroke-width="2.0" />
<polygon points="542.8,733.4 552.4,729.8 552.4,741.2 542.8,744.8" fill="#ececec" />
<polygon points="542.8,733.4 552.4,729.8 552.4,732.0 542.8,735.6" fill="#fafafa" />
<polygon points="725.0,662.4 732.0,659.6 732.0,668.6 725.0,671.6" fill="#ececec" />
<path d="M728.6,670 Q723.5,706 720.5,736 Q717.4,768 720.6,800 Q723,824 726.5,842 L731,858" stroke="#c4c4c4" stroke-width="3.0" fill="none" stroke-linecap="round"/>
<path d="M728.6,670 Q723.5,706 720.5,736 Q717.4,768 720.6,800 Q723,824 726.5,842 L731,858" stroke="#ffffff" stroke-width="2.0" fill="none" stroke-dasharray="2.6 1.0" stroke-linecap="butt"/>
<path d="M722.6,838 L729.4,858.5" stroke="#cfcfcf" stroke-width="2.4" fill="none" stroke-linecap="round"/>
<path d="M722.6,838 L729.4,858.5" stroke="#ffffff" stroke-width="1.5" fill="none" stroke-dasharray="2.4 1.0"/>
<path d="M760.0,915.6 C754.0,916.0 736.0,918.4 724.0,918.0 C712.0,917.6 699.6,915.6 688.0,913.0 C676.4,910.4 665.2,907.4 654.4,902.4 C643.6,897.4 632.4,890.0 623.2,883.2 C614.0,876.4 607.2,870.0 599.2,861.6 C591.2,853.2 582.4,842.8 575.2,832.8 C568.0,822.8 560.8,810.4 556.0,801.6 C551.2,792.8 548.6,785.4 546.4,780.0 C544.2,774.6 543.6,770.8 543.0,769.0" fill="none" stroke="#0a0a0a" stroke-width="2.3" stroke-dasharray="3.9 4.2"/>
<path d="M0,0 L-17.2,-7.1 Q-13.7,0 -17.2,7.1 Z" fill="#050505" transform="translate(537.4,754.0) rotate(-110)"/>
<path d="M840.0,857.6 C840.5,851.2 843.5,832.0 843.2,819.2 C842.9,806.4 841.3,793.1 838.4,780.8 C835.5,768.5 830.9,755.9 825.6,745.6 C820.3,735.3 814.0,726.6 806.4,719.0 C798.8,711.4 788.4,706.2 780.0,700.0 C771.6,693.8 760.0,684.8 756.0,681.8" fill="none" stroke="#0a0a0a" stroke-width="2.3" stroke-dasharray="3.9 4.2"/>
<path d="M0,0 L-18.9,-7.8 Q-15.1,0 -18.9,7.8 Z" fill="#050505" transform="translate(736.8,672.0) rotate(-156)"/>
<rect x="766.5" y="844" width="68" height="68" rx="10.5" fill="#f5541e"/>
<g fill="#fff7f0">
<path d="M787.60,852.80 h10.0 q2.75,1.1 5.5,0 h10.0 v4.4 q-7.8,0.4 -8.8,4.4 h-7.9 q-1.0,-4.0 -8.8,-4.4 Z"/>
<rect x="796.40" y="861.30" width="7.9" height="10.4"/>
<polygon points="795.55,871.40 805.15,873.10 805.15,875.85 795.55,874.15"/>
<polygon points="795.55,875.02 805.15,876.72 805.15,879.47 795.55,877.77"/>
<polygon points="795.55,878.64 805.15,880.34 805.15,883.09 795.55,881.39"/>
<polygon points="795.55,882.26 805.15,883.96 805.15,886.71 795.55,885.01"/>
<polygon points="795.55,885.88 805.15,887.58 805.15,890.33 795.55,888.63"/>
<polygon points="795.55,889.50 805.15,891.20 805.15,893.95 795.55,892.25"/>
<polygon points="796.45,892.92 804.25,894.32 799.85,903.40"/>
</g>
<text x="800.4" y="929.4" font-size="8.9" text-anchor="middle" textLength="43.3" lengthAdjust="spacingAndGlyphs" class="sm">МОНТАЖ</text>
<text x="800.6" y="941.9" font-size="8.9" text-anchor="middle" textLength="71.2" lengthAdjust="spacingAndGlyphs" class="sm">НА САМОРЕЗЫ</text>
</svg></body></html>
